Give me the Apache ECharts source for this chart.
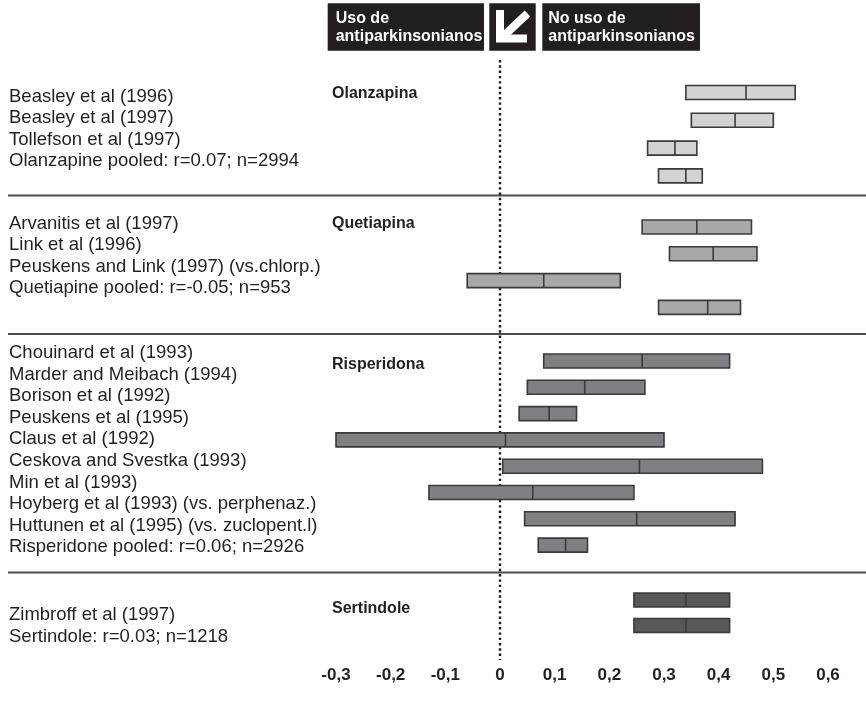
<!DOCTYPE html>
<html>
<head>
<meta charset="utf-8">
<script src="https://cdn.jsdelivr.net/npm/echarts@6/dist/echarts.min.js"></script>
<style>
  html, body { margin: 0; padding: 0; background: #ffffff; }
  #chart { width: 866px; height: 711px; }
</style>
</head>
<body>
<div id="chart"></div>
<script>
// ---- study names listed beside each drug block ----
const olanzapineStudies = [
  'Beasley et al (1996)',
  'Beasley et al (1997)',
  'Tollefson et al (1997)',
  'Olanzapine pooled: r=0.07; n=2994'
];
const quetiapineStudies = [
  'Arvanitis et al (1997)',
  'Link et al (1996)',
  'Peuskens and Link (1997) (vs.chlorp.)',
  'Quetiapine pooled: r=-0.05; n=953'
];
const risperidoneStudies = [
  'Chouinard et al (1993)',
  'Marder and Meibach (1994)',
  'Borison et al (1992)',
  'Peuskens et al (1995)',
  'Claus et al (1992)',
  'Ceskova and Svestka (1993)',
  'Min et al (1993)',
  'Hoyberg et al (1993) (vs. perphenaz.)',
  'Huttunen et al (1995) (vs. zuclopent.l)',
  'Risperidone pooled: r=0.06; n=2926'
];
const sertindoleStudies = [
  'Zimbroff et al (1997)',
  'Sertindole: r=0.03; n=1218'
];

const drugNames = ['Olanzapina', 'Quetiapina', 'Risperidona', 'Sertindole'];

// ---- ranges per row: lower bound, point estimate, upper bound ----
const olanzapineLow  = [0.34, 0.35, 0.27, 0.29];
const olanzapineMid  = [0.45, 0.43, 0.32, 0.34];
const olanzapineHigh = [0.54, 0.50, 0.36, 0.37];

const quetiapineLow  = [0.26, 0.31, -0.06, 0.29];
const quetiapineMid  = [0.36, 0.39, 0.08, 0.38];
const quetiapineHigh = [0.46, 0.47, 0.22, 0.44];

const risperidoneLow  = [0.08, 0.05, 0.035, -0.30, 0.005, -0.13, 0.045, 0.07];
const risperidoneMid  = [0.26, 0.155, 0.09, 0.01, 0.255, 0.06, 0.25, 0.12];
const risperidoneHigh = [0.42, 0.265, 0.14, 0.30, 0.48, 0.245, 0.43, 0.16];

const sertindoleLow  = [0.245, 0.245];
const sertindoleMid  = [0.34, 0.34];
const sertindoleHigh = [0.42, 0.42];

// ---- x axis ----
const xMin = -0.3;
const xMax = 0.6;
const xStep = 0.1;
const tickLabels = ['-0,3', '-0,2', '-0,1', '0', '0,1', '0,2', '0,3', '0,4', '0,5', '0,6'];

// ---- header captions ----
const headerLeft = ['Uso de', 'antiparkinsonianos'];
const headerRight = ['No uso de', 'antiparkinsonianos'];

// ---- page layout (pixels) ----
const layout = {
  plotLeft: 336,
  plotRight: 828,
  pageWidth: 866,
  pageHeight: 711,
  barHeight: 14,
  barRows: [
    { first: 92.5, step: 27.8 },
    { first: 227, step: 26.8 },
    { first: 361, step: 26.3 },
    { first: 600, step: 25.5 }
  ],
  labelRows: [
    { first: 96.5, step: 21.6 },
    { first: 223.5, step: 21.6 },
    { first: 353, step: 21.6 },
    { first: 615, step: 21.6 }
  ],
  drugLabelX: 332,
  drugLabelY: [93.5, 223.5, 365, 609],
  separators: [195.5, 334, 572.5],
  zeroTop: 60,
  zeroBottom: 660
};

const fills = ['#d3d3d5', '#a8a8ab', '#808084', '#58585a'];
const edge = '#3a3a3c';
const ink = '#231f20';
const textFont = 'Liberation Sans, Arial, sans-serif';

const blocks = [
  { studies: olanzapineStudies, low: olanzapineLow, mid: olanzapineMid, high: olanzapineHigh },
  { studies: quetiapineStudies, low: quetiapineLow, mid: quetiapineMid, high: quetiapineHigh },
  { studies: risperidoneStudies, low: risperidoneLow, mid: risperidoneMid, high: risperidoneHigh },
  { studies: sertindoleStudies, low: sertindoleLow, mid: sertindoleMid, high: sertindoleHigh }
];

const grids = [];
const xAxes = [];
const yAxes = [];
const series = [];

// frame grid: shared scale, tick labels and the dotted zero line
grids.push({
  left: layout.plotLeft,
  right: layout.pageWidth - layout.plotRight,
  top: layout.zeroTop,
  bottom: layout.pageHeight - layout.zeroBottom
});
xAxes.push({
  gridIndex: 0, type: 'value', min: xMin, max: xMax, interval: xStep,
  axisLine: { show: false }, axisTick: { show: false }, splitLine: { show: false },
  axisLabel: {
    margin: 7, color: ink, fontSize: 17, fontWeight: 'bold', fontFamily: textFont,
    formatter: (v) => tickLabels[Math.round((v - xMin) / xStep)]
  }
});
yAxes.push({ gridIndex: 0, type: 'value', min: 0, max: 1, show: false });
series.push({
  type: 'custom',
  xAxisIndex: 0, yAxisIndex: 0,
  data: [[0, 0.5]],
  encode: { x: 0, y: 1 },
  silent: true,
  z: 1,
  renderItem: (params, api) => {
    const cs = params.coordSys;
    const p = api.coord([api.value(0), api.value(1)]);
    return {
      type: 'line',
      shape: { x1: p[0], y1: cs.y, x2: p[0], y2: cs.y + cs.height },
      style: { stroke: '#1a1a1a', lineWidth: 2.4, lineDash: [2.4, 2.9] }
    };
  }
});

function rangeRenderer(fill) {
  return (params, api) => {
    const row = api.value(0);
    const lo = api.coord([api.value(1), row]);
    const md = api.coord([api.value(2), row]);
    const hi = api.coord([api.value(3), row]);
    const h = layout.barHeight;
    return {
      type: 'group',
      children: [
        {
          type: 'rect',
          shape: { x: lo[0], y: lo[1] - h / 2, width: hi[0] - lo[0], height: h },
          style: { fill: fill, stroke: edge, lineWidth: 1.6 }
        },
        {
          type: 'line',
          shape: { x1: md[0], y1: lo[1] - h / 2, x2: md[0], y2: lo[1] + h / 2 },
          style: { stroke: edge, lineWidth: 1.6 }
        }
      ]
    };
  };
}

blocks.forEach((b, g) => {
  const n = b.low.length;
  const br = layout.barRows[g];
  const lr = layout.labelRows[g];

  // bars
  const barGrid = grids.length;
  grids.push({
    left: layout.plotLeft,
    right: layout.pageWidth - layout.plotRight,
    top: br.first - br.step / 2,
    height: n * br.step
  });
  xAxes.push({ gridIndex: barGrid, type: 'value', min: xMin, max: xMax, show: false });
  yAxes.push({
    gridIndex: barGrid, type: 'category', inverse: true, show: false,
    data: b.low.map((_, i) => i)
  });
  series.push({
    type: 'custom',
    name: drugNames[g],
    xAxisIndex: barGrid, yAxisIndex: barGrid,
    encode: { y: 0, x: [1, 2, 3] },
    data: b.low.map((v, i) => [i, v, b.mid[i], b.high[i]]),
    z: 3,
    renderItem: rangeRenderer(fills[g])
  });

  // study names
  const labelGrid = grids.length;
  grids.push({
    left: 7, width: 1,
    top: lr.first - lr.step / 2,
    height: b.studies.length * lr.step
  });
  xAxes.push({ gridIndex: labelGrid, type: 'value', show: false });
  yAxes.push({
    gridIndex: labelGrid, type: 'category', inverse: true, position: 'right',
    data: b.studies,
    axisLine: { show: false }, axisTick: { show: false }, splitLine: { show: false },
    axisLabel: {
      interval: 0, margin: 1, color: ink, fontSize: 18.5, fontFamily: textFont, align: 'left'
    }
  });
});

// header boxes, arrow, drug names and block separators
const graphic = [];
const boxTop = 3.3, boxHeight = 47.4;
graphic.push({ type: 'rect', shape: { x: 327.7, y: boxTop, width: 156.3, height: boxHeight }, style: { fill: ink } });
graphic.push({ type: 'rect', shape: { x: 489.3, y: boxTop, width: 46.4, height: boxHeight }, style: { fill: ink } });
graphic.push({ type: 'rect', shape: { x: 542.3, y: boxTop, width: 157.7, height: boxHeight }, style: { fill: ink } });
const headerFont = 'bold 16px ' + textFont;
headerLeft.forEach((t, i) => {
  graphic.push({ type: 'text', x: 335.7, y: 18.4 + i * 17.7, style: { text: t, fill: '#ffffff', font: headerFont, verticalAlign: 'middle' } });
});
headerRight.forEach((t, i) => {
  graphic.push({ type: 'text', x: 548.3, y: 18.4 + i * 17.7, style: { text: t, fill: '#ffffff', font: headerFont, verticalAlign: 'middle' } });
});
graphic.push({
  type: 'polyline',
  shape: { points: [[500, 10], [500, 38.5], [527, 38.5]] },
  style: { stroke: '#ffffff', lineWidth: 8, fill: null, lineJoin: 'miter', lineCap: 'butt' }
});
graphic.push({
  type: 'line',
  shape: { x1: 527.5, y1: 13.5, x2: 503, y2: 36.5 },
  style: { stroke: '#ffffff', lineWidth: 8, lineCap: 'butt' }
});
drugNames.forEach((name, g) => {
  graphic.push({
    type: 'text', x: layout.drugLabelX, y: layout.drugLabelY[g],
    style: { text: name, fill: ink, font: 'bold 16px ' + textFont, verticalAlign: 'middle' }
  });
});
layout.separators.forEach((y) => {
  graphic.push({
    type: 'line', z: 0,
    shape: { x1: 8, y1: y, x2: layout.pageWidth, y2: y },
    style: { stroke: '#4d4d4f', lineWidth: 2 }
  });
});

const chart = echarts.init(document.getElementById('chart'), null, { renderer: 'canvas' });
chart.setOption({
  animation: false,
  backgroundColor: '#ffffff',
  grid: grids,
  xAxis: xAxes,
  yAxis: yAxes,
  series: series,
  graphic: graphic
});
</script>
</body>
</html>
